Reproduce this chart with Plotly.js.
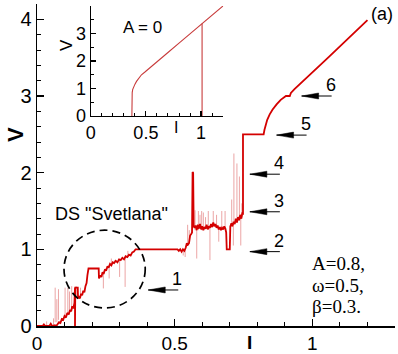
<!DOCTYPE html>
<html>
<head>
<meta charset="utf-8">
<script src="https://cdn.plot.ly/plotly-3.0.1.min.js"></script>
<style>
  html, body { margin: 0; padding: 0; background: #fff; }
  #chart { width: 398px; height: 354px; }
</style>
</head>
<body>
<div id="chart"></div>
<script>
// main I-V curve (A=0.8)
var mainI = [0.000,0.020,0.025,0.030,0.045,0.050,0.055,0.065,0.070,0.075,
  0.080,0.085,0.090,0.095,0.100,0.105,0.110,0.115,0.120,0.124,
  0.128,0.132,0.136,0.138,0.138,0.139,0.139,0.148,0.149,0.152,
  0.156,0.160,0.164,0.168,0.172,0.176,0.180,0.183,0.187,0.224,
  0.225,0.230,0.234,0.238,0.242,0.247,0.251,0.256,0.260,0.265,
  0.270,0.275,0.280,0.286,0.292,0.298,0.304,0.310,0.316,0.322,
  0.328,0.334,0.340,0.346,0.352,0.358,0.510,0.515,0.520,0.525,
  0.530,0.535,0.540,0.544,0.548,0.552,0.556,0.560,0.563,0.565,
  0.567,0.569,0.572,0.576,0.580,0.584,0.588,0.592,0.596,0.600,
  0.604,0.608,0.612,0.616,0.620,0.624,0.628,0.632,0.636,0.640,
  0.644,0.648,0.652,0.656,0.660,0.664,0.668,0.672,0.676,0.680,
  0.684,0.687,0.689,0.700,0.702,0.706,0.710,0.714,0.718,0.722,
  0.726,0.730,0.734,0.738,0.742,0.746,0.748,0.748,0.823,0.826,
  0.830,0.836,0.845,0.855,0.870,0.885,0.900,0.904,0.918,0.922,
  0.935,0.955,0.980,1.000,1.030,1.060,1.090,1.120,1.150,1.180,
  1.200];
var mainV = [0.00,0.00,0.02,0.00,0.00,0.03,0.00,0.01,0.00,0.03,
  0.05,0.04,0.09,0.08,0.13,0.11,0.17,0.15,0.21,0.19,
  0.26,0.23,0.30,0.50,0.00,0.00,0.50,0.50,0.36,0.38,
  0.36,0.42,0.40,0.46,0.44,0.52,0.56,0.66,0.75,0.75,
  0.62,0.66,0.64,0.70,0.68,0.74,0.72,0.78,0.76,0.81,
  0.79,0.83,0.82,0.85,0.83,0.87,0.86,0.89,0.87,0.91,
  0.90,0.93,0.92,0.96,0.97,1.00,1.00,0.98,1.00,0.97,
  1.00,0.98,1.02,1.08,1.06,1.08,1.18,1.20,1.22,2.01,
  2.00,1.30,1.28,1.31,1.25,1.32,1.27,1.33,1.26,1.30,
  1.25,1.29,1.27,1.32,1.26,1.30,1.28,1.33,1.29,1.35,
  1.30,1.33,1.28,1.31,1.26,1.29,1.25,1.28,1.26,1.30,
  1.27,1.22,1.00,1.00,1.30,1.34,1.30,1.36,1.33,1.40,
  1.35,1.42,1.38,1.45,1.40,1.48,1.45,2.50,2.50,2.56,
  2.62,2.69,2.76,2.82,2.89,2.95,2.99,3.00,3.00,3.04,
  3.09,3.16,3.24,3.31,3.41,3.51,3.61,3.71,3.81,3.92,
  3.99];

// thin light spikes (I, from, to)
var spikeI  = [0.035,0.060,0.066,0.072,0.078,0.102,0.112,0.118,0.126,0.142,0.158,
  0.241,0.262,0.270,0.283,0.300,0.320,0.330,
  0.531,0.538,0.547,0.553,0.574,0.580,0.586,0.592,0.598,0.604,0.612,0.622,0.628,
  0.640,0.652,0.660,0.671,0.683,0.707,0.713,0.715,0.726,0.735,0.740,0.744];
var spikeLo = [0.00,0.00,0.05,0.05,0.08,0.12,0.14,0.15,0.20,0.38,0.38,
  0.69,0.78,0.79,0.83,0.86,0.90,0.90,
  0.99,1.00,1.06,1.08,1.25,1.28,1.25,1.28,1.25,1.28,1.27,1.26,1.28,
  1.30,1.30,1.27,1.27,1.25,1.32,1.30,1.35,1.35,1.38,1.40,1.42];
var spikeHi = [0.06,0.10,0.50,0.35,0.48,0.50,0.50,0.45,0.52,0.52,0.50,
  0.49,0.62,0.88,0.86,0.64,0.51,0.98,
  0.92,0.90,1.32,1.25,1.51,0.88,1.50,1.45,1.50,1.48,1.42,1.50,0.86,
  1.50,1.45,1.10,1.50,1.50,1.65,1.05,2.25,2.12,1.95,1.05,1.60];

// inset, A = 0
var insetI = [0.373,0.373,0.374,0.376,0.380,0.387,0.400,0.415,0.433,0.460,
  0.494,0.550,0.620,0.700,0.800,0.900,1.009,1.100,1.205];
var insetV = [0.00,0.50,0.70,0.85,0.96,1.04,1.15,1.26,1.37,1.50,
  1.61,1.81,2.04,2.31,2.65,2.99,3.36,3.66,4.02];
var insetDropI = [1.009, 1.009];
var insetDropV = [3.36, 0.00];

// marked steps 1..6
var arrowI = [0.404, 0.773, 0.773, 0.773, 0.870, 0.961];
var arrowV = [0.47, 0.97, 1.49, 1.98, 2.49, 3.00];
var arrowLabels = ['1', '2', '3', '4', '5', '6'];

var spikeX = [], spikeY = [];
for (var i = 0; i < spikeI.length; i++) {
  spikeX.push(spikeI[i], spikeI[i], null);
  spikeY.push(spikeLo[i], spikeHi[i], null);
}

var red = 'rgb(212,0,0)';
var insetRed = 'rgb(200,60,60)';
var traces = [
  {x: spikeX, y: spikeY, type: 'scatter', mode: 'lines',
   line: {color: 'rgba(205,30,30,0.4)', width: 1}, hoverinfo: 'skip'},
  {x: mainI, y: mainV, type: 'scatter', mode: 'lines',
   line: {color: red, width: 1.8}},
  {x: insetI, y: insetV, type: 'scatter', mode: 'lines', xaxis: 'x2', yaxis: 'y2',
   line: {color: insetRed, width: 1.1}},
  {x: insetDropI, y: insetDropV, type: 'scatter', mode: 'lines', xaxis: 'x2', yaxis: 'y2',
   line: {color: insetRed, width: 1.1}}
];

var font = 'Liberation Sans, Arial, sans-serif';
var serif = 'Liberation Serif, Times New Roman, serif';

var shapes = [
  {type: 'circle', xref: 'x', yref: 'y', x0: 0.098, x1: 0.393, y0: 0.235, y1: 1.25,
   line: {color: 'black', width: 1.7, dash: '8px,5px'}}
];
var annotations = [];
for (var k = 0; k < arrowI.length; k++) {
  shapes.push({type: 'line', xref: 'x', yref: 'y', xsizemode: 'pixel', xanchor: arrowI[k],
    x0: 0, x1: 30, y0: arrowV[k], y1: arrowV[k], line: {color: 'black', width: 1}});
  shapes.push({type: 'path', xref: 'x', yref: 'y', xsizemode: 'pixel', ysizemode: 'pixel',
    xanchor: arrowI[k], yanchor: arrowV[k], path: 'M0,0 L17,3 L17,-3 Z',
    fillcolor: 'black', line: {color: 'black', width: 0.5}});
  annotations.push({x: arrowI[k], y: arrowV[k], xref: 'x', yref: 'y', text: arrowLabels[k],
    xanchor: 'center', yanchor: 'middle',
    showarrow: false, xshift: 29, yshift: 11, font: {family: font, size: 18, color: 'black'}});
}

// text placed by pixel position of the picture (plot area 37..395 x 4..326)
function label(px, py, text, size, extra) {
  var a = {xref: 'paper', yref: 'paper', x: (px - 37) / 358, y: (326 - py) / 322,
    xanchor: 'center', yanchor: 'middle', text: text, showarrow: false,
    font: {family: font, size: size, color: 'black'}};
  for (var key in extra) a[key] = extra[key];
  return a;
}

annotations.push(
  label(15, 135, '<b>V</b>', 22, {textangle: -90, borderpad: 0}),
  label(250, 342, '<b>I</b>', 19),
  label(67, 45, 'V', 17, {textangle: -90}),
  label(176, 128, 'I', 16),
  label(142.5, 27.3, 'A = 0', 17),
  label(381.5, 14, '(a)', 18),
  label(111.5, 213.5, 'DS "Svetlana"', 18),
  label(310, 263.3, 'A=0.8,', 19, {xanchor: 'left', font: {family: serif, size: 19, color: 'black'}}),
  label(310, 285, '\u03c9=0.5,', 19, {xanchor: 'left', font: {family: serif, size: 19, color: 'black'}}),
  label(310, 306, '\u03b2=0.3.', 19, {xanchor: 'left', font: {family: serif, size: 19, color: 'black'}})
);

function axisStyle(extra) {
  var a = {
    showline: true, linecolor: 'black', linewidth: 1.5, mirror: false,
    showgrid: false, zeroline: false, ticks: 'inside', ticklen: 7, tickwidth: 1.2,
    tickcolor: 'black', fixedrange: true
  };
  for (var key in extra) a[key] = extra[key];
  return a;
}

var layout = {
  width: 398, height: 354,
  margin: {l: 37, r: 3, t: 4, b: 28, pad: 0},
  paper_bgcolor: 'white', plot_bgcolor: 'white',
  showlegend: false,
  xaxis: axisStyle({range: [0, 1.3], tickvals: [0, 0.5, 1], ticktext: ['0', '0.5', '1'],
    tickfont: {family: font, size: 19, color: 'black'},
    minor: {dtick: 0.1, tick0: 0, ticks: 'inside', ticklen: 4, tickcolor: 'black', tickwidth: 1}}),
  yaxis: axisStyle({range: [0, 4.2], dtick: 1, tick0: 0,
    tickfont: {family: font, size: 20, color: 'black'},
    minor: {dtick: 0.2, tick0: 0, ticks: 'inside', ticklen: 4, tickcolor: 'black', tickwidth: 1}}),
  xaxis2: axisStyle({domain: [0.150, 0.520], anchor: 'y2', range: [0, 1.2],
    tickvals: [0, 0.5, 1], ticktext: ['0', '0.5', '1'], ticklen: 5, linewidth: 1.2,
    tickfont: {family: font, size: 18, color: 'black'},
    minor: {dtick: 0.1, tick0: 0, ticks: 'inside', ticklen: 3, tickcolor: 'black', tickwidth: 1}}),
  yaxis2: axisStyle({domain: [0.652, 0.994], anchor: 'x2', range: [0, 4],
    tickvals: [0, 1, 2, 3], ticklen: 5, linewidth: 1.2,
    tickfont: {family: font, size: 18, color: 'black'},
    minor: {dtick: 0.5, tick0: 0, ticks: 'inside', ticklen: 3, tickcolor: 'black', tickwidth: 1}}),
  shapes: shapes,
  annotations: annotations
};

Plotly.newPlot('chart', traces, layout, {displayModeBar: false, staticPlot: true});
</script>
</body>
</html>
